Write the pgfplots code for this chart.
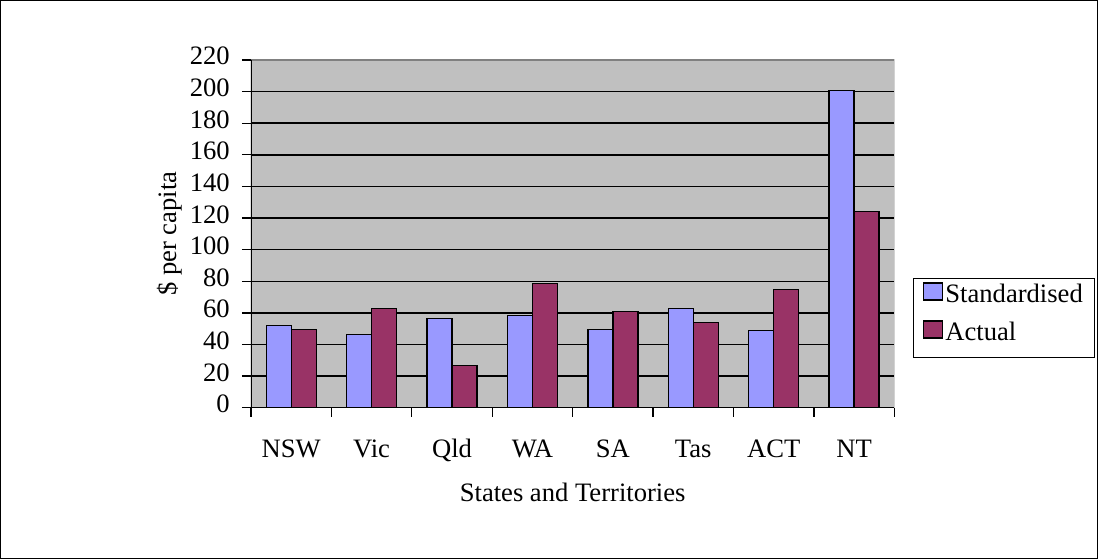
\documentclass[border=0pt]{standalone}
\usepackage{fontspec}
\setmainfont{Liberation Serif}
\usepackage{pgfplots}
\pgfplotsset{compat=1.18}
\definecolor{stdc}{HTML}{9999FF}
\definecolor{actc}{HTML}{993366}
\definecolor{bgc}{HTML}{C0C0C0}
\definecolor{brd}{HTML}{808080}
\newcommand\fs{\fontsize{26.6bp}{31bp}\selectfont}
\begin{document}
\begin{tikzpicture}
\begin{axis}[
  at={(0,0)}, anchor=south west,
  scale only axis, width=643.3bp, height=347.7bp,
  xmin=-0.5, xmax=7.5, ymin=0, ymax=220,
  ybar=0pt, bar width=25bp,
  axis background/.style={fill=bgc},
  axis line style={draw=none},
  ytick={0,20,...,220},
  ymajorgrids, major grid style={black, line width=1.5bp},
  xtick={-0.5,0.5,1.5,2.5,3.5,4.5,5.5,6.5,7.5}, xticklabels={},
  extra x ticks={0,1,2,3,4,5,6,7},
  extra x tick labels={NSW,Vic,Qld,WA,SA,Tas,ACT,NT},
  extra x tick style={major tick length=0pt},
  xtick pos=bottom, ytick pos=left,
  tick align=outside, major tick length=9bp,
  tick style={black, line width=1.3bp},
  /pgf/number format/assume math mode=true,
  yticklabel style={font=\fs, anchor=base east, inner sep=0pt, xshift=-12bp, yshift=-5bp},
  xticklabel style={font=\fs, anchor=base, inner sep=0pt, yshift=-50bp},
  ylabel={\$ per capita},
  ylabel style={font=\fs, at={(axis description cs:-0.126,0.5)}, anchor=center},
  xlabel={States and Territories},
  xlabel style={font=\fs, at={(axis description cs:0.5,-0.271)}, anchor=base},
  legend cell align=left,
  legend style={font=\fs, at={(axis description cs:1.029,0.258)}, anchor=west,
    draw=black, line width=1.3bp, fill=white, inner xsep=9.5bp, inner ysep=1.5bp,
    nodes={inner xsep=2bp, inner ysep=3bp, text height=20bp, text depth=12bp},
    /tikz/every even column/.append style={column sep=3bp}},
  legend image code/.code={\draw[#1, draw=black, line width=1.3bp] (0bp,-1bp) rectangle (19bp,16bp);},
]
\addplot[fill=stdc, draw=black, line width=1.3bp] coordinates {
  (0,52.0) (1,46.3) (2,56.4) (3,58.5) (4,49.5) (5,62.7) (6,49.0) (7,200.6)};
\addplot[fill=actc, draw=black, line width=1.3bp] coordinates {
  (0,49.7) (1,62.9) (2,26.5) (3,78.7) (4,60.8) (5,53.9) (6,74.9) (7,124.2)};
\legend{Standardised, Actual}
\draw[brd, line width=1.3bp] (rel axis cs:0,1) -- (rel axis cs:1,1) -- (rel axis cs:1,0);
\draw[black, line width=1.5bp] (rel axis cs:0,1) -- (rel axis cs:0,0) -- (rel axis cs:1,0);
\end{axis}
\draw[black, line width=1bp] (-250.5bp,-150.8bp) rectangle (846.5bp,407.2bp);
\end{tikzpicture}
\end{document}
